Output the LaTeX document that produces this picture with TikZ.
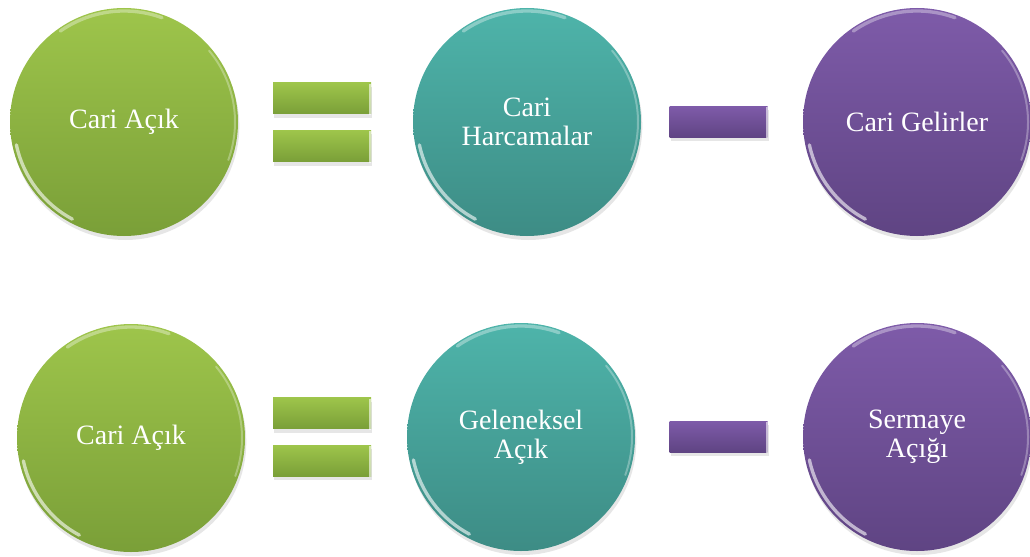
\documentclass[tikz,border=0pt]{standalone}
\usepackage{fontspec}
\setmainfont{Liberation Serif}
\usetikzlibrary{shadows}

\definecolor{grnTop}{HTML}{9EC54B}
\definecolor{grnBot}{HTML}{7A9F38}
\definecolor{tealTop}{HTML}{4EB4AA}
\definecolor{tealBot}{HTML}{3D8C85}
\definecolor{purTop}{HTML}{7E5BA9}
\definecolor{purBot}{HTML}{5F4483}

\tikzset{every picture/.style={line width=0.75pt}}
\tikzset{
  disc/.style={circle, minimum size=171pt, inner sep=0pt, outer sep=0pt,
    text=white, align=center, font=\fontsize{21}{22}\selectfont,
    drop shadow={opacity=0.2, shadow xshift=1pt, shadow yshift=-3pt}},
  bar/.style={rectangle, minimum width=73.5pt, minimum height=23.25pt,
    inner sep=0pt, outer sep=0pt,
    drop shadow={opacity=0.2, shadow xshift=1pt, shadow yshift=-3pt}},
  greenfill/.style={top color=grnTop, bottom color=grnBot},
  tealfill/.style={top color=tealTop, bottom color=tealBot},
  purplefill/.style={top color=purTop, bottom color=purBot},
  rim/.style={white, opacity=0.6, line width=2.5pt, line cap=round},
  bevel/.style={white, opacity=0.6, line width=1.5pt}
}

\begin{document}
\begin{tikzpicture}[x=0.75pt,y=0.75pt,yscale=-1,xscale=1]
\useasboundingbox (0,0) rectangle (1030,556);

% Circle Nodes -- first row
\node [disc, greenfill] (cariacik1) at (124,122) {Cari Açık};
\node [disc, tealfill] (cariharc) at (527,122) {Cari\\Harcamalar};
\node [disc, purplefill] (carigel) at (917,122) {Cari Gelirler};

% Circle Nodes -- second row
\node [disc, greenfill] (cariacik2) at (131,438) {Cari Açık};
\node [disc, tealfill] (gelacik) at (521,437) {Geleneksel\\Açık};
\node [disc, purplefill] (sermacik) at (917,437) {Sermaye\\Açığı};

% Bar Nodes (equals and minus)
\node [bar, greenfill] (eqtop1) at (322,98.5) {};
\node [bar, greenfill] (eqbot1) at (322,146) {};
\node [bar, purplefill] (minus1) at (718.5,122) {};
\node [bar, greenfill] (eqtop2) at (322,413) {};
\node [bar, greenfill] (eqbot2) at (322,460.5) {};
\node [bar, purplefill] (minus2) at (718.5,436.5) {};

% Highlights
\foreach \c in {cariacik1,cariharc,carigel,cariacik2,gelacik,sermacik}{
  \draw [rim] (\c.center) ++(118:110) arc [start angle=118, end angle=168, radius=110];
  \draw [rim, opacity=0.35] (\c.center) ++(235:111) arc [start angle=235, end angle=290, radius=111];
  \draw [rim, opacity=0.3, line width=1.5pt] (\c.center) ++(-40:111) arc [start angle=-40, end angle=20, radius=111];
}
\foreach \b in {eqtop1,eqbot1,minus1,eqtop2,eqbot2,minus2}{
  \draw [bevel] (\b.north east) ++(-1,1) -- ([xshift=-0.75pt,yshift=0.75pt]\b.south east);
}
\end{tikzpicture}
\end{document}
